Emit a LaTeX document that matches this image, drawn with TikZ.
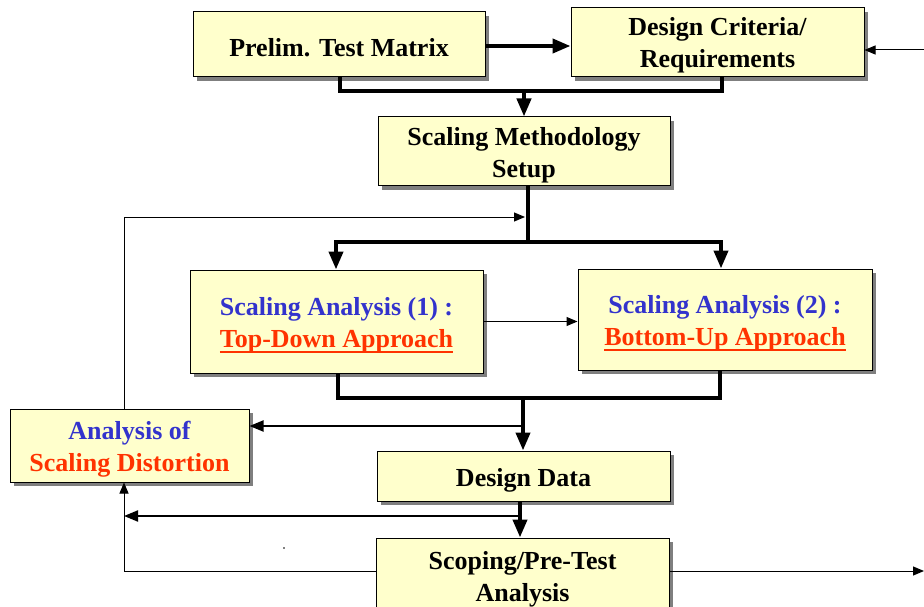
\documentclass[tikz,border=0pt]{standalone}
\usepackage{fontspec}
\setmainfont{Liberation Serif}
\usetikzlibrary{arrows.meta,shadows}
\definecolor{boxfill}{HTML}{FFFFCC}
\definecolor{shadowgray}{HTML}{7F7F7F}
\definecolor{tblue}{HTML}{3333CC}
\definecolor{tred}{HTML}{FF3300}
\newcommand\redul[1]{\setbox0\hbox{#1}\rlap{\rule[-5.5pt]{\wd0}{2.2pt}}\box0}
\begin{document}
\begin{tikzpicture}[x=1pt,y=-1pt,
 box/.style={draw=black, line width=1pt, fill=boxfill, inner sep=0pt,
   drop shadow={shadow xshift=4pt, shadow yshift=-4pt, fill=shadowgray, opacity=1}},
 boxtext/.style={align=center, font=\fontsize{26}{32}\selectfont\bfseries, inner sep=0pt},
 thickline/.style={line width=4pt},
 thickarrow/.style={line width=4pt, -{Triangle[length=18pt,width=14pt]}},
 medarrow/.style={line width=2pt, -{Triangle[length=14pt,width=11pt]}},
 thinarrow/.style={line width=1pt, -{Triangle[length=11pt,width=9pt]}},
 bothtips/.style={line width=4pt, {Triangle[length=18pt,width=14pt]}-{Triangle[length=18pt,width=14pt]}},
]
\path[use as bounding box, clip] (0,0) rectangle (924,607);
\fill[white] (0,0) rectangle (924,607);

% boxes
\node[box, minimum width=292pt, minimum height=65pt] (prelim) at (339,44.5) {};
\node[box, minimum width=293pt, minimum height=69pt] (crit) at (717.5,42.5) {};
\node[box, minimum width=292pt, minimum height=69pt] (meth) at (524,151.5) {};
\node[box, minimum width=293pt, minimum height=103pt] (sa1) at (336.5,321.5) {};
\node[box, minimum width=294pt, minimum height=101pt] (sa2) at (725,319.5) {};
\node[box, minimum width=239pt, minimum height=73pt] (dist) at (129.5,445.5) {};
\node[box, minimum width=293pt, minimum height=50pt] (data) at (523.5,476) {};
\node[box, minimum width=293pt, minimum height=74pt] (scope) at (522.5,575) {};

% texts
\node[boxtext] (prelimT) at ([yshift=-3pt]prelim.center) {Prelim. Test Matrix};
\node[boxtext] (critT) at ([yshift=-3pt]crit.center) {Design Criteria/\\Requirements};
\node[boxtext] (methT) at ([yshift=-4pt]meth.center) {Scaling Methodology\\Setup};
\node[boxtext] (sa1T) at ([yshift=-4pt]sa1.center)
  {{\color{tblue}Scaling Analysis (1) :}\\{\color{tred}\redul{Top-Down Approach}}};
\node[boxtext] (sa2T) at ([yshift=-4pt]sa2.center)
  {{\color{tblue}Scaling Analysis (2) :}\\{\color{tred}\redul{Bottom-Up Approach}}};
\node[boxtext] (distT) at ([yshift=-4pt]dist.center)
  {{\color{tblue}Analysis of}\\{\color{tred}Scaling Distortion}};
\node[boxtext] (dataT) at ([yshift=-4pt]data.center) {Design Data};
\node[boxtext] (scopeT) at ([yshift=-4pt]scope.center) {Scoping/Pre-Test\\Analysis};

% connectors
\coordinate (inR) at (924,50);
\draw[thinarrow] (inR) -- (inR -| crit.east);
\coordinate (pc) at (0,46);
\draw[thickarrow] (pc -| prelim.east) -- (pc -| crit.west);

\coordinate (b1l) at (340,91); \coordinate (b1r) at (722,91); \coordinate (b1m) at (524,91);
\draw[thickline] (b1l |- prelim.south) -- (b1l) -- (b1r) -- (b1r |- crit.south);
\draw[thickarrow] (b1m) -- (b1m |- meth.north);

\coordinate (s0) at (528,242); \coordinate (sl) at (336,242); \coordinate (sr) at (721,242);
\draw[thickline] (s0 |- meth.south) -- (s0);
\draw[bothtips] (sl |- sa1.north) -- (sl) -- (sr) -- (sr |- sa2.north);

\coordinate (f1) at (124,217); \coordinate (f2) at (525,217);
\draw[thinarrow] (f1 |- dist.north) -- (f1) -- (f2);

\draw[thinarrow] (sa1.east) -- (sa1.east -| sa2.west);

\coordinate (b2l) at (338,398); \coordinate (b2r) at (720,398); \coordinate (b2m) at (523,398);
\draw[thickline] (b2l |- sa1.south) -- (b2l) -- (b2r) -- (b2r |- sa2.south);
\draw[thickarrow] (b2m) -- (b2m |- data.north);
\coordinate (d1) at (523,426);
\draw[medarrow] (d1) -- (d1 -| dist.east);

\coordinate (e1) at (520,516);
\draw[thickarrow] (e1 |- data.south) -- (e1 |- scope.north);
\coordinate (g1) at (518,516); \coordinate (g2) at (124,516);
\draw[medarrow] (g1) -- (g2);

\coordinate (h1) at (124,571);
\draw[thinarrow] (h1 -| scope.west) -- (h1) -- (h1 |- dist.south);
\coordinate (h2) at (924,571);
\draw[thinarrow] (h2 -| scope.east) -- (h2);

\fill (284,548) circle (0.8pt);
\end{tikzpicture}
\end{document}
